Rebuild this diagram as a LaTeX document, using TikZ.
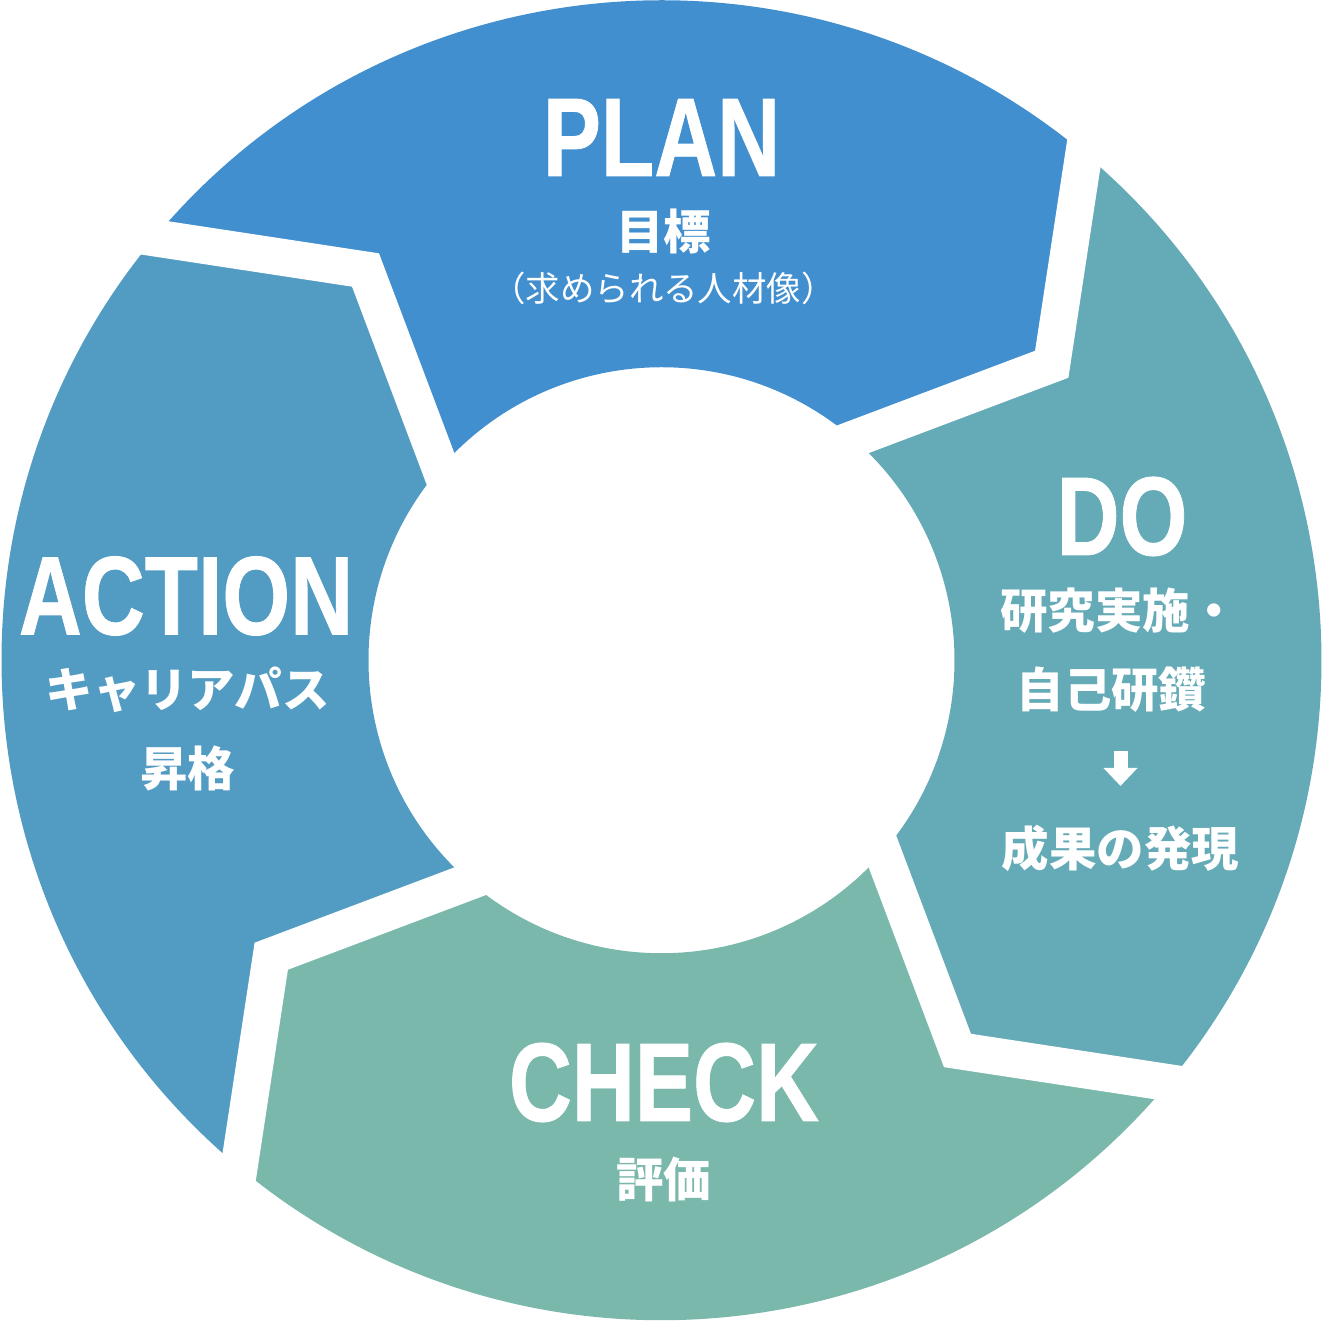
\documentclass[tikz,border=0pt]{standalone}
\usepackage{fontspec}
\usepackage{graphicx}
\usetikzlibrary{arrows.meta}
\setmainfont{Liberation Sans}
\newfontfamily\headfont[BoldFeatures={FakeBold=0.8}]{Liberation Sans}
\newfontfamily\jpfont{Noto Sans CJK JP}
\definecolor{planblue}{HTML}{418FCF}
\definecolor{doteal}{HTML}{65AAB7}
\definecolor{checkgreen}{HTML}{7AB8AC}
\definecolor{actionblue}{HTML}{529CC4}
\newcommand{\narrowcaps}[1]{\scalebox{0.78}[1]{#1}}
\tikzset{
  headword/.style={text=white, inner sep=0pt, font=\headfont\fontsize{31.8pt}{32pt}\selectfont\bfseries},
  jptext/.style={text=white, inner sep=0pt, font=\jpfont\fontsize{13.5pt}{14pt}\selectfont\bfseries},
  jpsmall/.style={text=white, inner sep=0pt, font=\jpfont\fontsize{9.8pt}{10pt}\selectfont},
  seam/.style={white, line width=0.37cm},
  downarrow/.style={white, line width=0.14cm, -{Triangle[width=0.33cm,length=0.18cm]}}
}
\begin{document}
\begin{tikzpicture}[x=0.01cm, y=0.01cm]
  \useasboundingbox (-661.5,-661.75) rectangle (662.5,660.25);

  % PLAN segment
  \fill[planblue] (140.15:660) arc[start angle=140.15, end angle=50.15, radius=660]
    -- (37.18:489.8) -- (49.13:293) arc[start angle=49.13, end angle=139.13, radius=293]
    -- (127.18:489.8) -- cycle;

  % DO segment
  \fill[doteal] (50.15:660) arc[start angle=50.15, end angle=-39.85, radius=660]
    -- (-52.82:489.8) -- (-40.87:293) arc[start angle=-40.87, end angle=49.13, radius=293]
    -- (37.18:489.8) -- cycle;

  % CHECK segment
  \fill[checkgreen] (-39.85:660) arc[start angle=-39.85, end angle=-129.85, radius=660]
    -- (-142.82:489.8) -- (-130.87:293) arc[start angle=-130.87, end angle=-40.87, radius=293]
    -- (-52.82:489.8) -- cycle;

  % ACTION segment
  \fill[actionblue] (-129.85:660) arc[start angle=-129.85, end angle=-219.85, radius=660]
    -- (127.18:489.8) -- (139.13:293) arc[start angle=-220.87, end angle=-130.87, radius=293]
    -- (-142.82:489.8) -- cycle;

  % white gaps between the segments
  \begin{scope}
    \clip (0,0) circle[radius=661];
    \draw[seam] (142.39:705) -- (127.18:489.8) -- (146.47:238);
    \draw[seam] (52.39:705) -- (37.18:489.8) -- (56.47:238);
    \draw[seam] (-37.61:705) -- (-52.82:489.8) -- (-33.53:238);
    \draw[seam] (-127.61:705) -- (-142.82:489.8) -- (-123.53:238);
  \end{scope}

  % PLAN
  \node[headword] (plan) at (0,522.75) {\narrowcaps{PLAN}};
  \node[jptext] (plangoal) at (2.5,429.25) {目標};
  \node[jpsmall] (plannote) at (2,371.75) {（求められる人材像）};

  % DO
  \node[headword] (do) at (460.5,143.75) {\narrowcaps{DO}};
  \node[jptext] (doline1) at (457.5,49.25) {研究実施・};
  \node[jptext] (doline2) at (450,-29.75) {自己研鑽};
  \node[jptext] (doresult) at (459,-187.75) {成果の発現};
  \draw[downarrow, shorten <=0.37cm, shorten >=0.38cm]
    (doresult.north |- doline2.south) -- (doresult.north);

  % CHECK
  \node[headword] (check) at (2.5,-422.25) {\narrowcaps{CHECK}};
  \node[jptext] (checkeval) at (2,-519.25) {評価};

  % ACTION
  \node[headword] (action) at (-475.5,64.25) {\narrowcaps{ACTION}};
  \node[jptext] (actioncareer) at (-474,-29.75) {キャリアパス};
  \node[jptext] (actionpromo) at (-473.5,-108.25) {昇格};
\end{tikzpicture}
\end{document}
